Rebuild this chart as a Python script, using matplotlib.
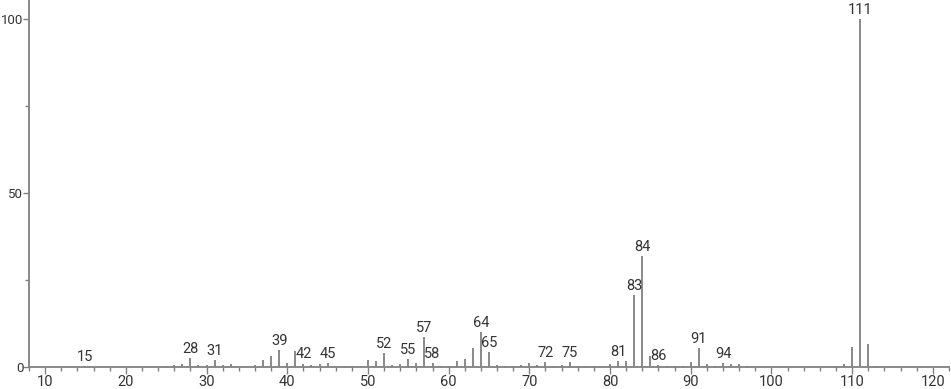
import numpy as np
import matplotlib
matplotlib.use("Agg")
import matplotlib.pyplot as plt
from matplotlib.ticker import MultipleLocator

# m/z values and relative intensities
mz = [15, 25, 26, 27, 28, 29, 30, 31, 32, 33, 36, 37, 38, 39, 40, 41, 42, 43,
      44, 45, 47, 48, 50, 51, 52, 53, 54, 55, 56, 57, 58, 59, 60, 61, 62, 63,
      64, 65, 66, 67, 68, 69, 70, 71, 72, 73, 74, 75, 76, 77, 78, 80, 81, 82,
      83, 84, 85, 86, 87, 88, 89, 90, 91, 92, 93, 94, 95, 96, 97, 108, 109,
      110, 111, 112, 113]
intensity = [0.3, 0.4, 0.7, 1.0, 2.6, 0.5, 0.5, 2.0, 0.5, 0.8, 0.5, 2.0, 3.2,
             4.8, 1.2, 4.5, 1.0, 0.5, 0.8, 1.2, 0.3, 0.3, 2.0, 1.8, 4.1, 0.5,
             1.0, 2.3, 1.2, 8.7, 1.2, 0.3, 0.3, 1.8, 2.3, 5.5, 10.0, 4.2, 0.6,
             0.4, 0.3, 0.5, 1.2, 0.5, 1.5, 0.3, 0.5, 1.5, 0.3, 0.3, 0.3, 0.8,
             1.7, 1.8, 20.7, 31.9, 3.3, 0.6, 0.3, 0.4, 0.4, 1.5, 5.4, 1.0, 0.4,
             1.2, 0.8, 0.8, 0.3, 0.3, 0.9, 5.7, 100.0, 6.7, 0.3]
labelled = [15, 28, 31, 39, 42, 45, 52, 55, 57, 58, 64, 65, 72, 75, 81, 83,
            84, 86, 91, 94, 111]

plt.rcParams["font.family"] = "Roboto"

line_col = "#808080"
text_col = "#333333"

fig = plt.figure(figsize=(9.51, 3.89), dpi=100)
ax = fig.add_axes([29 / 951, 22 / 389, 920 / 951, 367 / 389])

ax.vlines(mz, 0, intensity, color=line_col, linewidth=1.3)

for m, h in zip(mz, intensity):
    if m in labelled:
        ax.annotate(str(m), (m, h), xytext=(0, 1.5), textcoords="offset points",
                    ha="center", va="bottom", fontsize=10.5, color=text_col)

ax.set_xlim(8, 122)
ax.set_ylim(0, 105.5)
ax.xaxis.set_major_locator(MultipleLocator(10))
ax.xaxis.set_minor_locator(MultipleLocator(2))
ax.set_yticks([0, 50, 100])
ax.yaxis.set_minor_locator(MultipleLocator(25))

for s in ["top", "right"]:
    ax.spines[s].set_visible(False)
for s in ["left", "bottom"]:
    ax.spines[s].set_color(line_col)
    ax.spines[s].set_linewidth(1.3)

ax.tick_params(which="major", length=5, width=1, color=line_col,
               labelsize=10.5, labelcolor=text_col, pad=1)
ax.tick_params(axis="y", which="major", length=4, pad=0, labelsize=9.5)
ax.tick_params(which="minor", length=3, width=1, color=line_col)

fig.savefig("out.png", dpi=100)
